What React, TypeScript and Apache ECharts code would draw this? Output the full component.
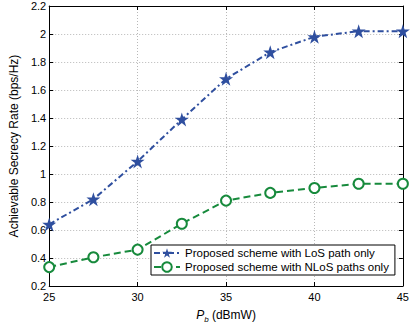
import React, { useEffect, useRef } from "react";
import * as echarts from "echarts";

const xValues = [25, 27.5, 30, 32.5, 35, 37.5, 40, 42.5, 45];
const losRate = [0.64, 0.82, 1.09, 1.39, 1.68, 1.87, 1.98, 2.02, 2.02];
const nlosRate = [0.335, 0.405, 0.46, 0.645, 0.81, 0.865, 0.9, 0.93, 0.93];
const seriesNames = [
  "Proposed scheme with LoS path only",
  "Proposed scheme with NLoS paths only",
];

const FONT = "'Liberation Sans', Arial, Helvetica, sans-serif";
const BLUE = "#2f4f9f";
const GREEN = "#178a3c";

export default function App() {
  const ref = useRef<HTMLDivElement>(null);
  useEffect(() => {
    if (!ref.current) return;
    const chart = echarts.init(ref.current, null, { renderer: "svg" });
    const axisCommon = {
      axisLine: { show: true, lineStyle: { color: "#000", width: 1 } },
      axisTick: { show: true, inside: true, length: 4, lineStyle: { color: "#000" } },
    };
    chart.setOption({
      animation: false,
      textStyle: { fontFamily: FONT },
      grid: { left: 43, right: 6, top: 6, bottom: 35, containLabel: false },
      legend: {
        data: seriesNames,
        orient: "vertical",
        left: 151,
        top: 245,
        itemWidth: 26,
        itemHeight: 12,
        itemGap: 2,
        padding: [2, 6, 2, 2],
        backgroundColor: "#fff",
        borderColor: "#000",
        borderWidth: 1,
        borderRadius: 0,
        textStyle: { fontFamily: FONT, fontSize: 11.5, color: "#000" },
      },
      xAxis: [
        {
          type: "value",
          min: 25,
          max: 45,
          interval: 5,
          ...axisCommon,
          axisLabel: { color: "#000", fontSize: 11, margin: 5, fontFamily: FONT },
          splitLine: { show: true, lineStyle: { color: "#b8b8b8", type: [1, 2] } },
          name: "{i|P}{s|b} (dBmW)",
          nameLocation: "middle",
          nameGap: 21,
          nameTextStyle: {
            color: "#000",
            fontSize: 12,
            fontFamily: FONT,
            rich: {
              i: { fontStyle: "italic", fontSize: 12, fontFamily: FONT, color: "#000" },
              s: { fontStyle: "italic", fontSize: 8, fontFamily: FONT, color: "#000", padding: [8, 0, 0, 0] },
            },
          },
        },
        {
          type: "value",
          position: "top",
          min: 25,
          max: 45,
          interval: 5,
          ...axisCommon,
          axisLabel: { show: false },
          splitLine: { show: false },
        },
      ],
      yAxis: [
        {
          type: "value",
          min: 0.2,
          max: 2.2,
          interval: 0.2,
          ...axisCommon,
          axisLabel: {
            color: "#000",
            fontSize: 11,
            margin: 3,
            fontFamily: FONT,
            formatter: (v: number) => String(Math.round(v * 10) / 10),
          },
          splitLine: { show: true, lineStyle: { color: "#b8b8b8", type: [1, 2] } },
          name: "Achievable Secrecy Rate (bps/Hz)",
          nameLocation: "middle",
          nameGap: 24,
          nameTextStyle: { color: "#000", fontSize: 12, fontFamily: FONT },
        },
        {
          type: "value",
          position: "right",
          min: 0.2,
          max: 2.2,
          interval: 0.2,
          ...axisCommon,
          axisLabel: { show: false },
          splitLine: { show: false },
        },
      ],
      series: [
        {
          name: seriesNames[0],
          type: "line",
          data: xValues.map((x, i) => [x, losRate[i]]),
          symbol: "path://M50,0 L61.8,36.2 L100,36.2 L69.1,58.8 L80.9,95.1 L50,72.6 L19.1,95.1 L30.9,58.8 L0,36.2 L38.2,36.2 Z",
          symbolSize: 14,
          itemStyle: { color: BLUE },
          lineStyle: { color: BLUE, width: 2, type: [6, 3, 2, 3] },
          z: 3,
        },
        {
          name: seriesNames[1],
          type: "line",
          data: xValues.map((x, i) => [x, nlosRate[i]]),
          symbol: "circle",
          symbolSize: 10,
          itemStyle: { color: "#fff", borderColor: GREEN, borderWidth: 2 },
          lineStyle: { color: GREEN, width: 2, type: [7, 4] },
          z: 3,
        },
      ],
    });
    return () => chart.dispose();
  }, []);
  return <div ref={ref} style={{ width: 412, height: 328, position: "absolute", left: 0, top: 0 }} />;
}
